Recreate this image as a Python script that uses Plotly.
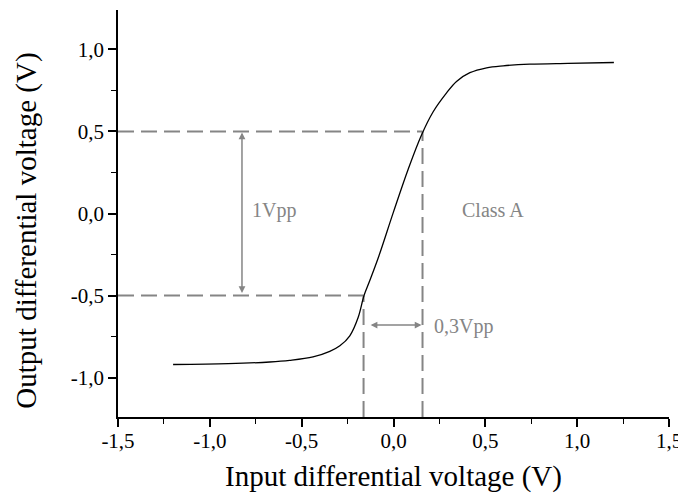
import plotly.graph_objects as go

# Transfer curve
vin = [-1.2, -0.9, -0.674, -0.565, -0.438, -0.347, -0.292, -0.238, -0.193, -0.160,
       -0.129, -0.08, 0.0, 0.08, 0.152, 0.216, 0.289, 0.343, 0.416, 0.507, 0.597,
       0.742, 0.95, 1.2]
vout = [-0.92, -0.915, -0.905, -0.895, -0.874, -0.84, -0.806, -0.745, -0.635, -0.498,
        -0.408, -0.26, 0.01, 0.27, 0.477, 0.62, 0.735, 0.805, 0.858, 0.888, 0.9,
        0.91, 0.915, 0.92]

# Class A window
out_levels = [-0.5, 0.5]
in_levels = [-0.163, 0.158]

x_ticks = [-1.5, -1.0, -0.5, 0.0, 0.5, 1.0, 1.5]
x_ticktext = ["-1,5", "-1,0", "-0,5", "0,0", "0,5", "1,0", "1,5"]
y_ticks = [-1.0, -0.5, 0.0, 0.5, 1.0]
y_ticktext = ["-1,0", "-0,5", "0,0", "0,5", "1,0"]

x_range = [-1.5, 1.5]
y_range = [-1.24, 1.24]

GREY = "#858585"
FONT = "Liberation Serif"

fig = go.Figure()

# dashed guide lines
dash_style = dict(color=GREY, width=2, dash="16px,7px")
for yl, xl in zip(out_levels, in_levels):
    fig.add_trace(go.Scatter(x=[x_range[0], xl], y=[yl, yl], mode="lines",
                             line=dash_style, hoverinfo="skip", showlegend=False))
    fig.add_trace(go.Scatter(x=[xl, xl], y=[y_range[0], yl], mode="lines",
                             line=dash_style, hoverinfo="skip", showlegend=False))

fig.add_trace(go.Scatter(x=vin, y=vout, mode="lines",
                         line=dict(color="black", width=1.3, shape="spline", smoothing=1.0),
                         showlegend=False))

# arrows
arrow_x = -0.825
arrow_y = -0.68
fig.add_annotation(x=arrow_x, y=out_levels[1], ax=arrow_x, ay=out_levels[0],
                   xref="x", yref="y", axref="x", ayref="y", text="",
                   showarrow=True, arrowhead=2, startarrowhead=2, arrowside="end+start",
                   arrowsize=0.9, arrowwidth=1.5, arrowcolor=GREY, standoff=1, startstandoff=1)
fig.add_annotation(x=in_levels[1], y=arrow_y, ax=in_levels[0] + 0.025, ay=arrow_y,
                   xref="x", yref="y", axref="x", ayref="y", text="",
                   showarrow=True, arrowhead=2, startarrowhead=2, arrowside="end+start",
                   arrowsize=0.9, arrowwidth=1.5, arrowcolor=GREY, standoff=1, startstandoff=1)

label_font = dict(family=FONT, size=20, color=GREY)
fig.add_annotation(x=-0.78, y=0.02, text="1Vpp", showarrow=False, xanchor="left",
                   yanchor="middle", font=label_font)
fig.add_annotation(x=0.36, y=0.02, text="Class A", showarrow=False, xanchor="left",
                   yanchor="middle", font=label_font)
fig.add_annotation(x=0.212, y=-0.69, text="0,3Vpp", showarrow=False, xanchor="left",
                   yanchor="middle", font=label_font)

# y-axis title (placed slightly below the axis centre, as in the reference)
fig.add_annotation(x=-0.165, y=0.458, xref="paper", yref="paper",
                   text="Output differential voltage (V)", textangle=-90,
                   showarrow=False, xanchor="center", yanchor="middle", borderpad=0,
                   font=dict(family=FONT, size=29, color="black"))

axis_common = dict(showline=True, linecolor="black", linewidth=1.5, showgrid=False,
                   zeroline=False, ticks="outside", ticklen=8, tickwidth=1.5,
                   tickcolor="black", mirror=False, automargin=False,
                   tickfont=dict(family=FONT, size=21, color="black"))

fig.update_xaxes(range=x_range, tickvals=x_ticks, ticktext=x_ticktext,
                 ticklabelstandoff=-4,
                 minor=dict(ticks="outside", ticklen=5, tickwidth=1.2, tickcolor="black", dtick=0.25),
                 title=dict(text="Input differential voltage (V)",
                            font=dict(family=FONT, size=29, color="black"), standoff=14),
                 **axis_common)
fig.update_yaxes(range=y_range, tickvals=y_ticks, ticktext=y_ticktext,
                 minor=dict(ticks="outside", ticklen=5, tickwidth=1.2, tickcolor="black", dtick=0.25,
                            tick0=0),
                 **axis_common)

# the page body adds an 8px offset, so the figure is sized to fit inside it
fig.update_layout(width=678, height=494, margin=dict(l=110, r=17, t=2, b=85),
                  plot_bgcolor="white", paper_bgcolor="white", showlegend=False)

fig.write_html("out.html")
